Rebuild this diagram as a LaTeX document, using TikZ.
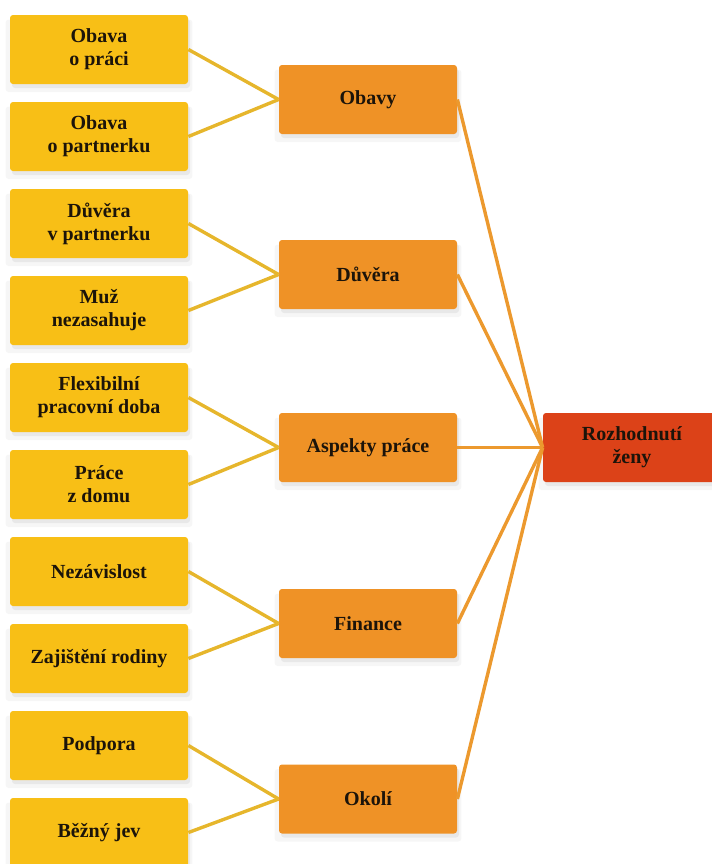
\documentclass[tikz,border=0pt]{standalone}
\usepackage{fontspec}
\setmainfont{Liberation Serif}
\usetikzlibrary{shadows}
\definecolor{leafyellow}{HTML}{F8BF16}
\definecolor{midorange}{HTML}{EF9226}
\definecolor{rootred}{HTML}{DC4218}
\definecolor{lineyellow}{HTML}{E6B62C}
\definecolor{lineorange}{HTML}{EC992E}
\definecolor{textdark}{HTML}{1C140A}

\begin{document}
\begin{tikzpicture}[x=0.5pt,y=-0.5pt,
  every node/.style={font=\bfseries\fontsize{10}{11.5}\selectfont,
    text=textdark, align=center},
  box/.style={rounded corners=1.5pt, minimum width=89pt,
    minimum height=34.5pt, inner sep=0pt,
    drop shadow={opacity=0.07, shadow xshift=0pt, shadow yshift=-3pt,
      shadow scale=1.05},
    drop shadow={opacity=0.12, shadow xshift=1pt, shadow yshift=-2pt}},
  leaf/.style={box, fill=leafyellow},
  group/.style={box, fill=midorange},
  root/.style={box, fill=rootred}]
  \useasboundingbox (0,0) rectangle (712,864);
  \clip (0,0) rectangle (712,864);
  \node[leaf] (l1)  at (99,49.5)  {Obava\\o práci};
  \node[leaf] (l2)  at (99,136.5) {Obava\\o partnerku};
  \node[leaf] (l3)  at (99,223.5) {Důvěra\\v partnerku};
  \node[leaf] (l4)  at (99,310.5) {Muž\\nezasahuje};
  \node[leaf] (l5)  at (99,397.5) {Flexibilní\\pracovní doba};
  \node[leaf] (l6)  at (99,484.5) {Práce\\z domu};
  \node[leaf] (l7)  at (99,571.5) {Nezávislost};
  \node[leaf] (l8)  at (99,658.5) {Zajištění rodiny};
  \node[leaf] (l9)  at (99,745.5) {Podpora};
  \node[leaf] (l10) at (99,832.5) {Běžný jev};
  \node[group] (m1) at (368,99.5)  {Obavy};
  \node[group] (m2) at (368,274.5) {Důvěra};
  \node[group] (m3) at (368,447.5) {Aspekty práce};
  \node[group] (m4) at (368,623.5) {Finance};
  \node[group] (m5) at (368,799)   {Okolí};
  \node[root] (r) at (632,447.5) {Rozhodnutí\\ženy};
  \path[draw=lineyellow, line width=1.7pt]
    (l1.east)  edge (m1.west)
    (l2.east)  edge (m1.west)
    (l3.east)  edge (m2.west)
    (l4.east)  edge (m2.west)
    (l5.east)  edge (m3.west)
    (l6.east)  edge (m3.west)
    (l7.east)  edge (m4.west)
    (l8.east)  edge (m4.west)
    (l9.east)  edge (m5.west)
    (l10.east) edge (m5.west);
  \path[draw=lineorange, line width=1.7pt]
    (m1.east) edge (r.west)
    (m2.east) edge (r.west)
    (m3.east) edge (r.west)
    (m4.east) edge (r.west)
    (m5.east) edge (r.west);
\end{tikzpicture}
\end{document}
